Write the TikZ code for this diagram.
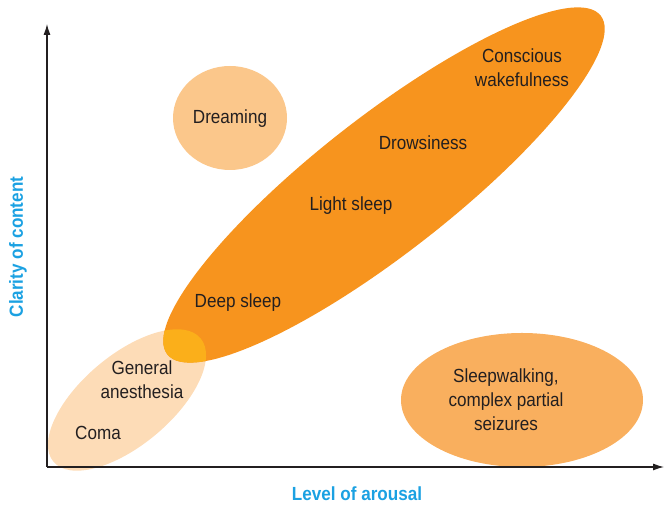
\documentclass[tikz,border=0pt]{standalone}
\usepackage{fontspec}
\setmainfont{Liberation Sans}[FakeStretch=0.9]
\usepackage{tikz}
\definecolor{wakeorange}{HTML}{F7941E}
\definecolor{dreampeach}{HTML}{FBC78B}
\definecolor{comapeach}{HTML}{FDDCB7}
\definecolor{walkorange}{HTML}{F9AF5E}
\definecolor{overlapyellow}{HTML}{FBAF1A}
\definecolor{txtgrey}{HTML}{231F20}
\definecolor{axisblue}{HTML}{1BA1E2}
\tikzstyle{lbl}=[text=txtgrey, align=center, inner sep=0pt, font=\fontsize{19}{24}\selectfont]
\tikzstyle{axislbl}=[text=axisblue, inner sep=0pt, font=\bfseries\fontsize{19}{22}\selectfont]
\tikzstyle{axis}=[line width=1.1pt, draw=txtgrey, ->, >={Latex[length=11pt,width=7pt]}]
\usetikzlibrary{arrows.meta,positioning,calc}

\begin{document}
\begin{tikzpicture}[x=1pt,y=1pt]
\useasboundingbox (0,0) rectangle (664,505);

% state regions
\fill[comapeach, rotate around={40:(127,105)}] (127,105) ellipse [x radius=96, y radius=45];
\fill[wakeorange, rotate around={38:(384,320)}] (384,320) ellipse [x radius=275, y radius=68];
\begin{scope}
\clip[rotate around={40:(127,105)}] (127,105) ellipse [x radius=96, y radius=45];
\fill[overlapyellow, rotate around={38:(384,320)}] (384,320) ellipse [x radius=275, y radius=68];
\end{scope}
\fill[dreampeach] (230,387) ellipse [x radius=57, y radius=52];
\fill[walkorange] (522,105) ellipse [x radius=121, y radius=67];

% axes
\coordinate (o) at (47,38);
\coordinate (ytip) at (47,481);
\coordinate (xtip) at (664,38);
\draw[axis] (o) -- (ytip);
\draw[axis] (o) -- (xtip);
\node (arousal) [axislbl] at (357,11) {Level of arousal};
\node (clarity) [axislbl, rotate=90] at (18,258) {Clarity of content};

% labels
\node (wake) [lbl] at (522,437) {Conscious\\wakefulness};
\node (drowsy) [lbl] at (423,362) {Drowsiness};
\node (light) [lbl] at (351,299) {Light sleep};
\node (deep) [lbl] at (238,202) {Deep sleep};
\node (dream) [lbl] at (230,386) {Dreaming};
\node (anesth) [lbl] at (142,125) {General\\anesthesia};
\node (coma) [lbl] at (98,72) {Coma};
\node (walk) [lbl] at (506,105) {Sleepwalking,\\complex partial\\seizures};

\end{tikzpicture}
\end{document}
